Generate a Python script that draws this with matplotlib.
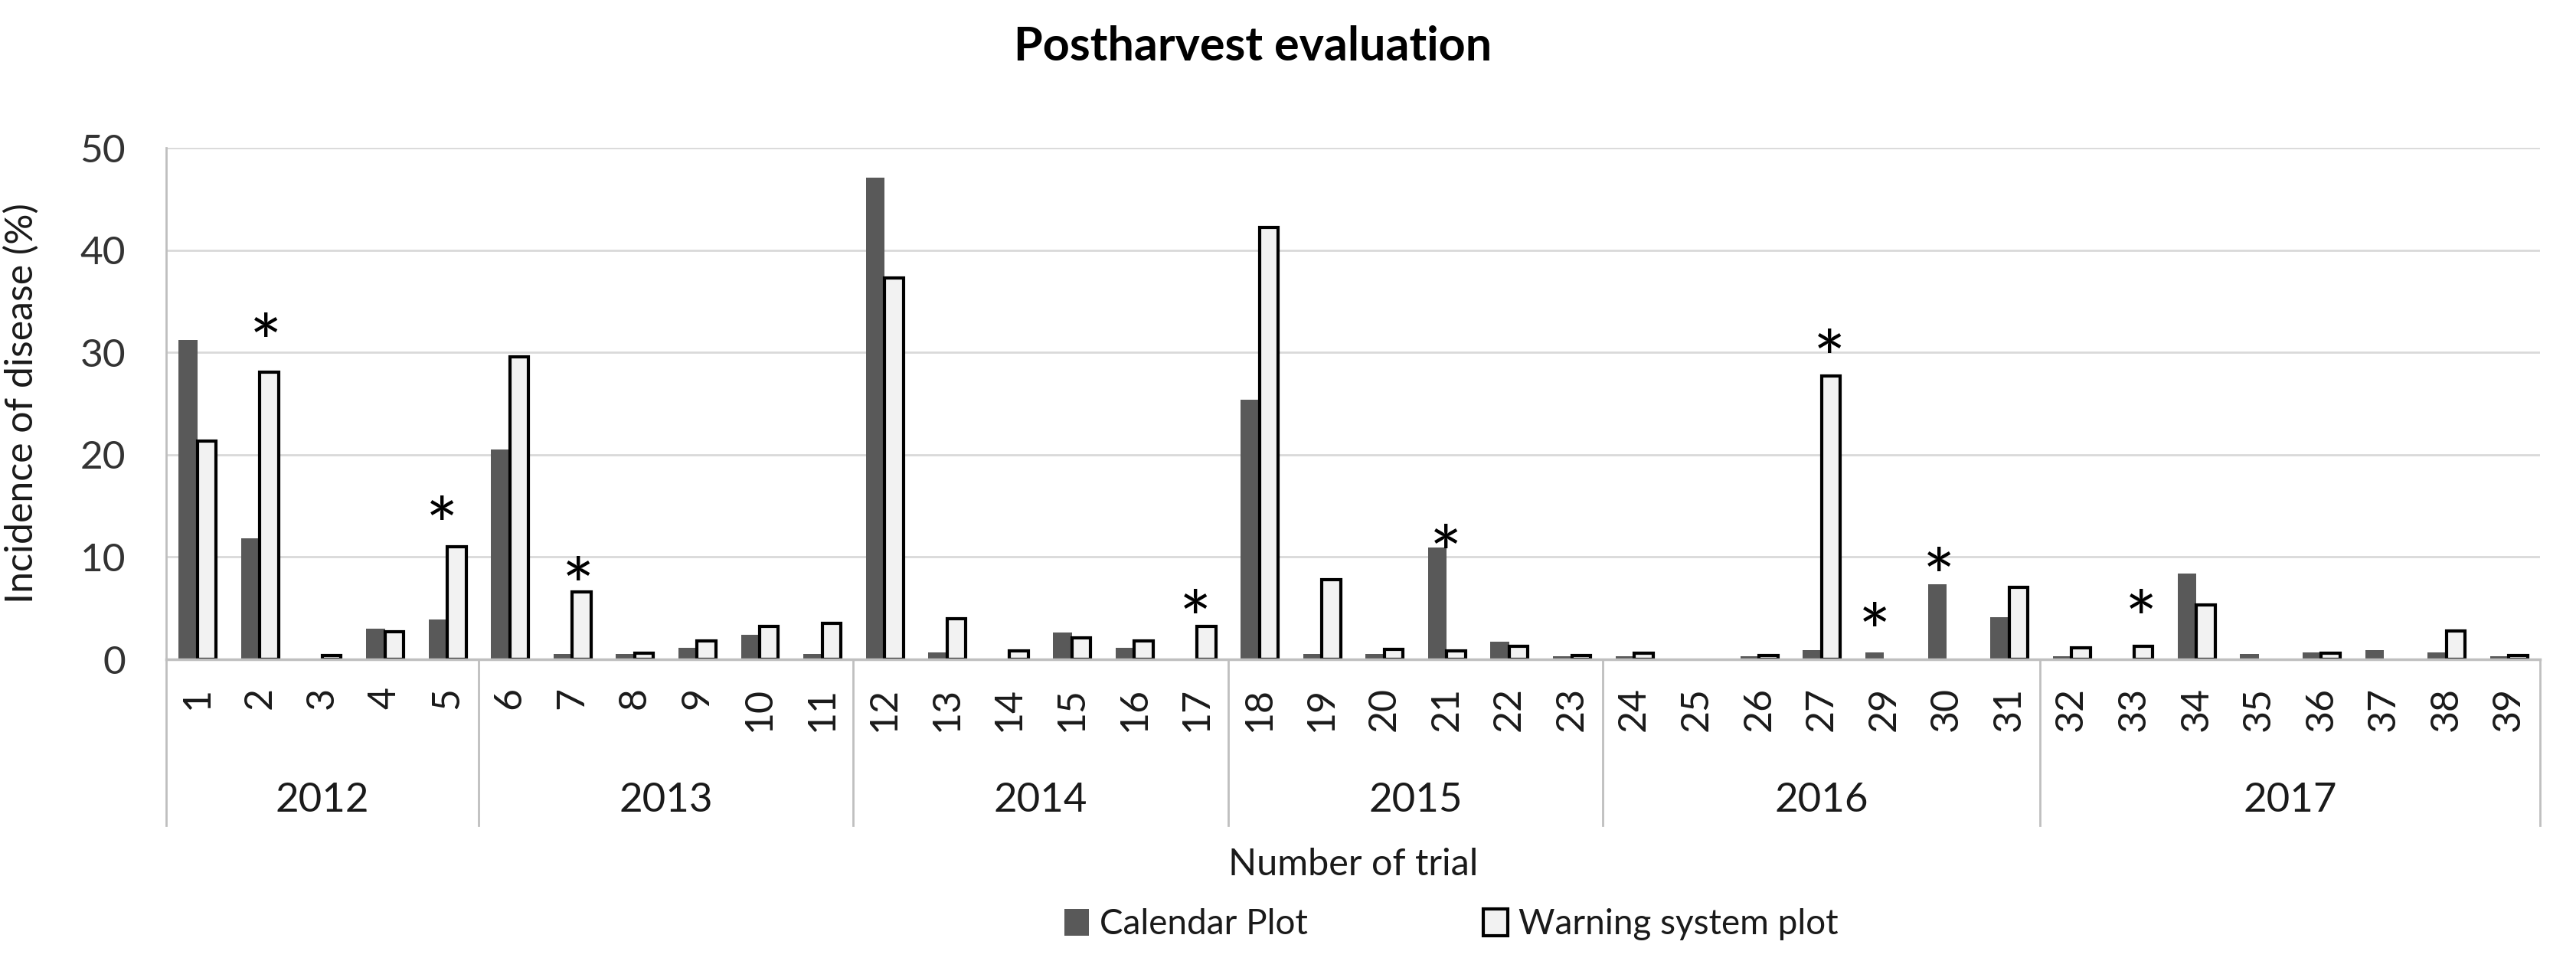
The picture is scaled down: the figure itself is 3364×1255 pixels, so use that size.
import numpy as np
import matplotlib
matplotlib.use("Agg")
import matplotlib.pyplot as plt
from matplotlib.patches import Patch

plt.rcParams['font.family'] = ['Lato', 'DejaVu Sans']

# ---------------- data ----------------
trials = ['1', '2', '3', '4', '5',
          '6', '7', '8', '9', '10', '11',
          '12', '13', '14', '15', '16', '17',
          '18', '19', '20', '21', '22', '23',
          '24', '25', '26', '27', '29', '30', '31',
          '32', '33', '34', '35', '36', '37', '38', '39']
years = ['2012', '2013', '2014', '2015', '2016', '2017']
year_sizes = [5, 6, 6, 6, 7, 8]

calendar = [31.2, 11.8, 0.0, 3.0, 3.9,
            20.5, 0.5, 0.5, 1.1, 2.4, 0.5,
            47.1, 0.7, 0.0, 2.6, 1.1, 0.0,
            25.4, 0.5, 0.5, 10.9, 1.7, 0.3,
            0.3, 0.0, 0.3, 0.9, 0.7, 7.3, 4.1,
            0.3, 0.0, 8.4, 0.5, 0.7, 0.9, 0.7, 0.3]
warning = [21.3, 28.1, 0.4, 2.7, 11.0,
           29.6, 6.6, 0.6, 1.8, 3.2, 3.5,
           37.3, 4.0, 0.8, 2.1, 1.8, 3.2,
           42.2, 7.8, 1.0, 0.8, 1.3, 0.4,
           0.6, 0.0, 0.4, 27.7, 0.0, 0.0, 7.0,
           1.1, 1.3, 5.3, 0.0, 0.6, 0.0, 2.8, 0.4]

# significance marks: trial and height of the asterisk
star_trials = ['2', '5', '7', '17', '21', '27', '29', '30', '33']
star_y = [32.6, 14.7, 8.8, 5.6, 11.9, 31.0, 4.3, 9.7, 5.6]
star_dx = [0.10, -0.08, 0.09, -0.02, -0.02, 0.12, -0.15, -0.12, 0.11]

series_names = ['Calendar Plot', 'Warning system plot']

# ---------------- figure ----------------
W, H = 3364, 1255
fig = plt.figure(figsize=(W / 100, H / 100), dpi=100)
left_px, right_px, top_px, zero_px = 217, 3317, 193, 861
ax = fig.add_axes([left_px / W, 1 - zero_px / H,
                   (right_px - left_px) / W, (zero_px - top_px) / H])

x = np.arange(len(trials))
w = 0.3
ax.bar(x - w / 2, calendar, w, color='#595959', zorder=2)
ax.bar(x + w / 2, warning, w, color='#f2f2f2', edgecolor='black',
       linewidth=[3 if v > 0 else 0 for v in warning], zorder=2)

ax.set_xlim(-0.5, len(trials) - 0.5)
ax.set_ylim(0, 50)
ax.set_yticks(np.arange(0, 51, 10))
ax.yaxis.grid(True, color='#d9d9d9', linewidth=2)
ax.set_axisbelow(True)

for s in ['top', 'right']:
    ax.spines[s].set_visible(False)
ax.spines['left'].set_color('#bfbfbf')
ax.spines['left'].set_linewidth(2)
ax.spines['bottom'].set_color('#bfbfbf')
ax.spines['bottom'].set_linewidth(2.5)
ax.spines['bottom'].set_zorder(3)

ax.set_xticks(x)
ax.set_xticklabels(trials, rotation=90)
ax.tick_params(axis='x', length=0, pad=26, labelsize=36, labelcolor='#1a1a1a')
ax.tick_params(axis='y', length=0, pad=38, labelsize=37, labelcolor='#333333')

ax.set_ylabel('Incidence of disease (%)', fontsize=36, color='#1a1a1a')
ax.yaxis.set_label_coords((52 - left_px) / (right_px - left_px), 0.5)

# group separators and year labels below the axis
trans = ax.get_xaxis_transform()
line_bottom = (zero_px - 1078) / (zero_px - top_px)
bounds = np.concatenate([[0], np.cumsum(year_sizes)]) - 0.5
for b in bounds:
    ax.plot([b, b], [0, line_bottom], transform=trans, color='#bfbfbf',
            linewidth=2, clip_on=False)
year_base = (zero_px - 1060) / (zero_px - top_px)
for i, yr in enumerate(years):
    cx = (bounds[i] + bounds[i + 1]) / 2
    ax.text(cx, year_base, yr, transform=trans, ha='center', va='baseline',
            fontsize=38, color='#1a1a1a')

# asterisks
idx = {t: i for i, t in enumerate(trials)}
for t, yv, dx in zip(star_trials, star_y, star_dx):
    ax.annotate('*', xy=(idx[t] + dx, yv), xytext=(0, -42),
                textcoords='offset points', ha='center', va='baseline',
                fontsize=72, color='black', annotation_clip=False)

# titles
fig.text(1636 / W, 1 - 79 / H, 'Postharvest evaluation', ha='center',
         va='baseline', fontsize=44, fontweight='bold', color='black')
fig.text((left_px + right_px) / 2 / W, 1 - 1143 / H, 'Number of trial',
         ha='center', va='baseline', fontsize=35, color='#1a1a1a')

handles = [Patch(facecolor='#595959', edgecolor='none'),
           Patch(facecolor='#f2f2f2', edgecolor='black', linewidth=3)]
fig.legend(handles, series_names, loc='center',
           bbox_to_anchor=(1895 / W, 1 - 1207 / H), ncol=2, frameon=False,
           fontsize=33, handlelength=0.7, handleheight=0.8,
           handletextpad=0.3, columnspacing=5.0, borderpad=0,
           labelcolor='#1a1a1a')

fig.savefig('out.png', dpi=100)
